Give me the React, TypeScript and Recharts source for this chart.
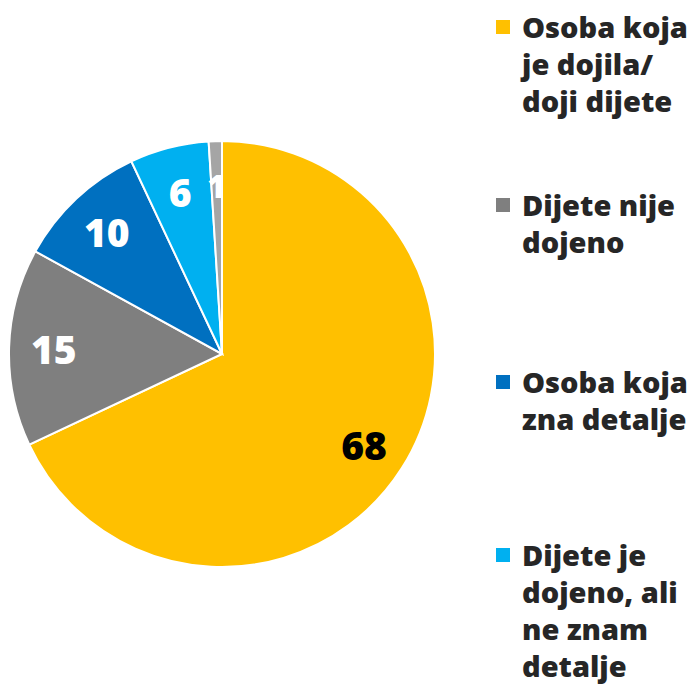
import { PieChart, Pie, Cell } from 'recharts';

const names = [
  'Osoba koja je dojila/ doji dijete',
  'Dijete nije dojeno',
  'Osoba koja zna detalje',
  'Dijete je dojeno, ali ne znam detalje',
  'Ostalo',
];
const values = [68, 15, 10, 6, 1];
const colors = ['#FFC000', '#7F7F7F', '#0070C0', '#00B0F0', '#A5A5A5'];
const labelColors = ['#000000', '#FFFFFF', '#FFFFFF', '#FFFFFF', '#FFFFFF'];
const legendLines = [
  ['Osoba koja', 'je dojila/', 'doji dijete'],
  ['Dijete nije', 'dojeno'],
  ['Osoba koja', 'zna detalje'],
  ['Dijete je', 'dojeno, ali', 'ne znam', 'detalje'],
];
const legendTops = [8, 186, 363, 536];

const data = names.map((name, i) => ({ name, value: values[i] }));

const FONT = '"Open Sans", "Noto Sans", sans-serif';
const RAD = Math.PI / 180;

interface LabelProps {
  cx: number;
  cy: number;
  midAngle: number;
  outerRadius: number;
  index: number;
  value: number;
}

function renderLabel({ cx, cy, midAngle, outerRadius, index, value }: LabelProps) {
  const r = outerRadius * 0.79;
  const x = cx + r * Math.cos(-midAngle * RAD);
  const y = cy + r * Math.sin(-midAngle * RAD);
  return (
    <text
      x={x}
      y={y}
      fill={labelColors[index]}
      textAnchor="middle"
      dominantBaseline="central"
      fontFamily={FONT}
      fontWeight={800}
      fontSize={index === 4 ? 32 : 39}
    >
      {value}
    </text>
  );
}

function LegendBlock() {
  return (
    <div style={{ position: 'absolute', left: 496, top: 0, width: 196, height: 699, fontFamily: FONT }}>
      {legendLines.map((lines, i) => (
        <div key={i} style={{ position: 'absolute', top: legendTops[i], left: 0 }}>
          <div
            style={{
              position: 'absolute',
              left: 0,
              top: 12,
              width: 14,
              height: 14,
              backgroundColor: colors[i],
            }}
          />
          <div
            style={{
              marginLeft: 26,
              fontSize: 29,
              fontWeight: 800,
              lineHeight: '37px',
              color: '#262626',
              whiteSpace: 'nowrap',
            }}
          >
            {lines.map((l) => (
              <div key={l}>{l}</div>
            ))}
          </div>
        </div>
      ))}
    </div>
  );
}

export default function App() {
  return (
    <div style={{ position: 'absolute', left: 0, top: 0, width: 692, height: 699, background: '#fff', overflow: 'hidden' }}>
      <PieChart width={692} height={699} margin={{ top: 0, right: 0, bottom: 0, left: 0 }}>
        <Pie
          data={data}
          dataKey="value"
          cx={222}
          cy={354}
          outerRadius={213}
          startAngle={90}
          endAngle={-270}
          stroke="#FFFFFF"
          strokeWidth={2}
          labelLine={false}
          label={renderLabel}
          isAnimationActive={false}
        >
          {data.map((d, i) => (
            <Cell key={d.name} fill={colors[i]} />
          ))}
        </Pie>
      </PieChart>
      <LegendBlock />
    </div>
  );
}
